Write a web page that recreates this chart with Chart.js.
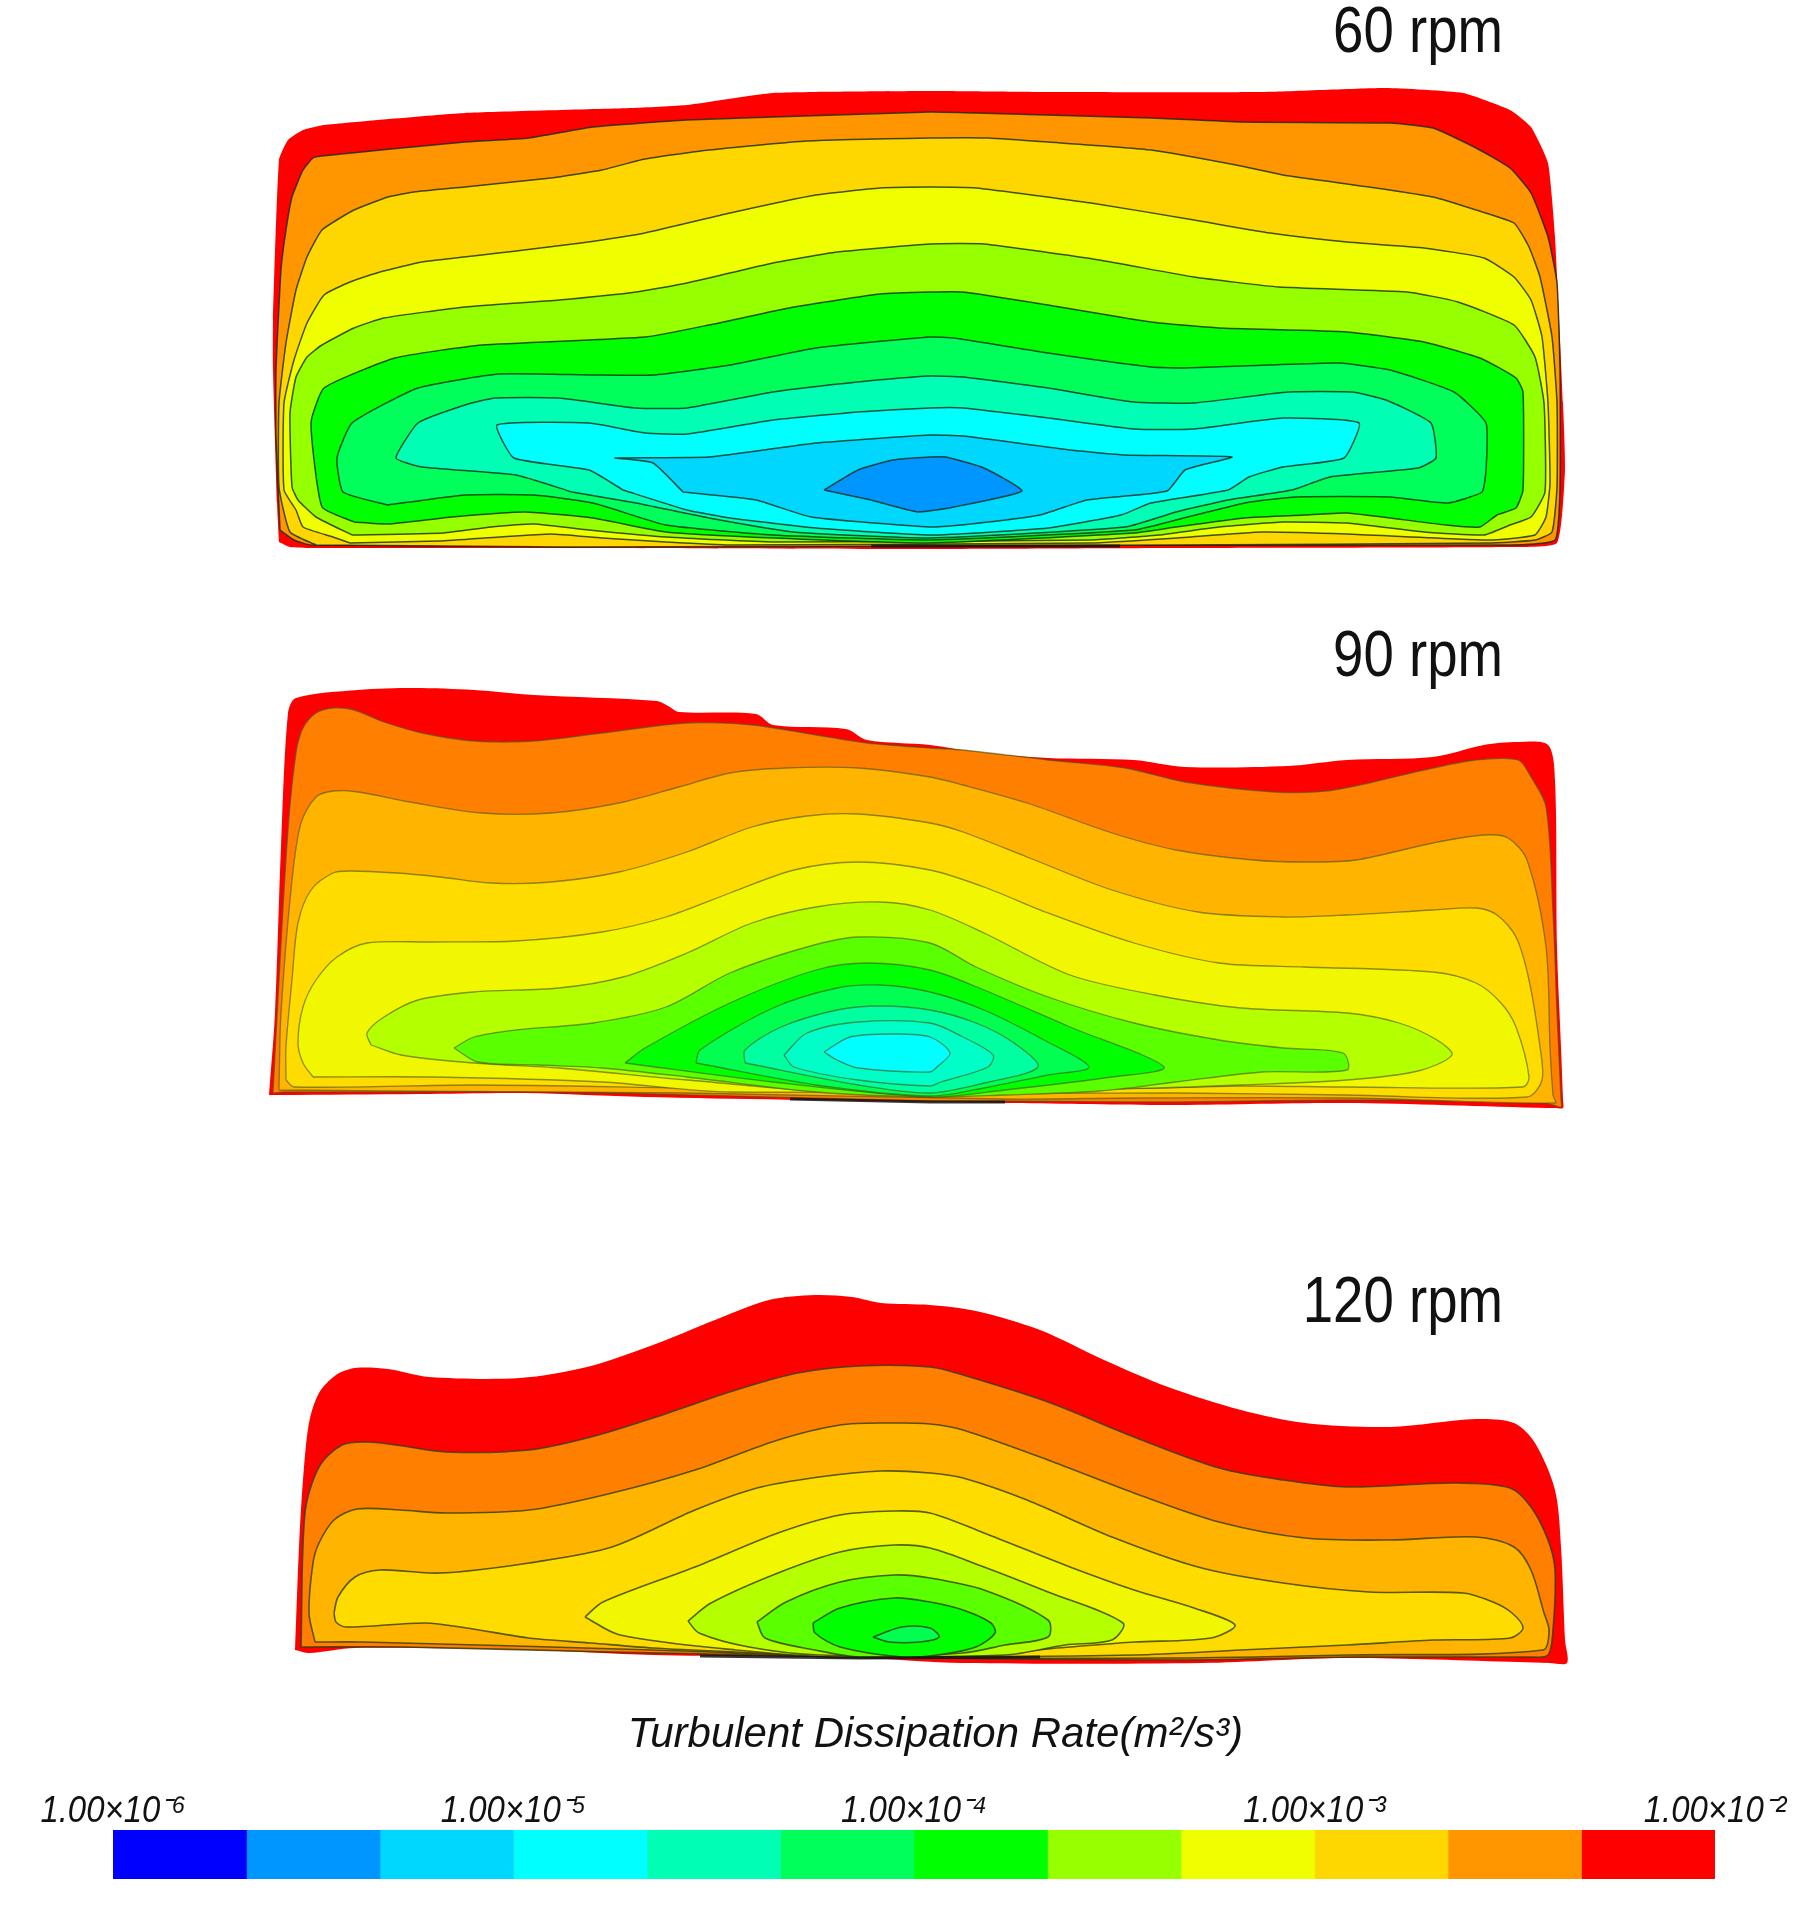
<!DOCTYPE html>
<html>
<head>
<meta charset="utf-8">
<title>Turbulent Dissipation Rate</title>
<script src="https://cdn.jsdelivr.net/npm/chart.js@4"></script>
<style>
  body { margin: 0; background: #fff; }
  #page { position: relative; width: 1811px; height: 1931px; overflow: hidden; }
  canvas { position: absolute; left: 0; }
  #contours { top: 0; }
  #legendBar { top: 1690px; }
</style>
</head>
<body>
<div id="page">
  <canvas id="contours" width="1811" height="1931"></canvas>
  <canvas id="legendBar" width="1811" height="200"></canvas>
</div>
<script>
// colour bar
const barColors = ["#0000ff", "#0096ff", "#00d7ff", "#00ffff", "#00ffb4", "#00ff5a", "#00ff00", "#96ff00", "#f0ff00", "#ffd700", "#ff9600", "#ff0000"];
const barTickLabels = ["1.00×10⁻⁶", "1.00×10⁻⁵", "1.00×10⁻⁴", "1.00×10⁻³", "1.00×10⁻²"];
const barTitle = "Turbulent Dissipation Rate(m²/s³)";

// fill colours, outermost contour first
const colors60 = ["#ff0000", "#ff9600", "#ffd700", "#f0ff00", "#96ff00", "#00ff00", "#00ff5a", "#00ffb4", "#00ffff", "#00d7ff", "#0096ff"];
const colors90 = ["#ff0000", "#ff8000", "#ffb400", "#ffdc00", "#f0f700", "#b4ff00", "#5aff00", "#00ff00", "#00ff50", "#00ffa0", "#00ffc8", "#00ffff"];
const colors120 = ["#ff0000", "#ff8000", "#ffb400", "#ffdc00", "#f0f700", "#b4ff00", "#5aff00", "#00ff00", "#00ff50"];

// contours, in picture units
const rpm60Edge = [[279,542],[277,503],[273,370],[273,320],[279,160],[288,140],[303,130],[324,125],[465,113],[632,108],[687,105],[773,93],[930,91],[1048,92],[1262,92],[1386,88],[1463,93],[1510,110],[1531,127],[1548,163],[1555,237],[1563,403],[1565,470],[1557,543],[1510,547],[1172,548],[920,549],[568,548],[311,548],[290,547]];
const rpm60Orange = [[280,530],[276,437],[276,370],[281,270],[286,230],[292,197],[303,170],[313,158],[322,156],[465,142],[529,138],[593,127],[687,120],[773,117],[930,112],[976,113],[1151,118],[1240,122],[1390,123],[1433,128],[1476,148],[1510,168],[1531,193],[1548,237],[1557,283],[1560,370],[1560,487],[1555,540],[1510,545],[1172,545],[920,546],[568,546],[311,545],[294,540]];
const rpm60Gold = [[316,545],[290,532],[279,487],[279,403],[286,343],[296,290],[307,257],[322,230],[354,210],[388,197],[414,192],[465,187],[551,178],[602,170],[645,159],[709,150],[807,141],[930,138],[988,138],[1048,142],[1151,150],[1236,165],[1283,175],[1369,187],[1433,197],[1476,210],[1514,223],[1529,247],[1540,277],[1552,337],[1557,403],[1557,487],[1552,532],[1535,540],[1488,543],[1172,545],[568,547]];
const rpm60Yellow = [[350,543],[333,537],[303,527],[296,510],[284,490],[284,403],[294,360],[307,323],[324,295],[350,282],[380,272],[422,262],[508,252],[581,243],[645,233],[730,213],[816,195],[880,188],[930,187],[976,188],[1091,203],[1194,220],[1270,233],[1347,242],[1424,248],[1484,258],[1514,277],[1531,300],[1542,337],[1548,403],[1550,483],[1546,517],[1535,535],[1488,540],[1347,534],[1262,532],[1176,538],[1091,543],[730,545],[666,542],[602,538],[551,534],[499,537],[439,541]];
const rpm60Lime = [[352,535],[316,517],[298,500],[292,487],[290,413],[296,377],[307,357],[322,345],[354,328],[384,318],[465,307],[559,300],[636,292],[687,283],[773,263],[837,252],[930,244],[984,244],[1099,260],[1194,277],[1279,287],[1407,292],[1458,302],[1514,325],[1535,357],[1544,403],[1545,492],[1531,517],[1510,525],[1484,535],[1424,532],[1347,523],[1283,522],[1219,527],[1159,535],[1091,540],[773,542],[666,537],[589,530],[534,524],[491,527],[444,533]];
const rpm60Green = [[354,522],[322,507],[311,423],[324,388],[395,358],[482,345],[645,337],[709,325],[794,307],[880,294],[930,292],[963,292],[1048,305],[1151,322],[1219,328],[1347,332],[1424,342],[1480,358],[1516,378],[1523,392],[1523,490],[1516,508],[1497,515],[1480,527],[1446,525],[1347,513],[1305,515],[1245,518],[1176,527],[1134,533],[930,543],[773,538],[666,532],[593,518],[525,512],[452,517],[388,524]];
const rpm60Spring = [[388,505],[343,492],[337,458],[352,423],[418,388],[499,374],[593,375],[653,375],[730,365],[816,348],[930,337],[954,338],[1048,353],[1151,367],[1185,368],[1270,365],[1339,363],[1390,370],[1454,392],[1486,423],[1486,470],[1482,492],[1448,503],[1390,497],[1296,497],[1245,503],[1176,520],[1134,530],[930,540],[773,535],[666,525],[593,503],[534,495],[465,495]];
const rpm60Aqua = [[572,492],[516,475],[422,467],[396,458],[418,423],[465,405],[495,398],[559,398],[636,408],[687,408],[773,392],[858,382],[930,376],[963,377],[1048,388],[1134,402],[1194,403],[1288,392],[1352,392],[1386,400],[1431,423],[1436,458],[1418,468],[1330,477],[1292,490],[1228,500],[1176,512],[1125,527],[930,538],[794,532],[709,518],[636,503]];
const rpm60Cyan = [[623,490],[589,470],[514,458],[497,425],[589,423],[645,433],[687,434],[773,420],[858,412],[930,408],[963,408],[1048,418],[1134,429],[1194,429],[1283,418],[1359,423],[1344,458],[1283,467],[1249,477],[1228,490],[1151,503],[1121,515],[1048,528],[930,535],[816,528],[730,518],[687,510]];
const rpm60Sky = [[683,492],[653,463],[615,458],[709,457],[816,443],[930,435],[963,436],[1070,450],[1125,455],[1232,457],[1185,470],[1167,491],[1087,500],[1040,515],[971,524],[930,527],[811,517],[756,500]];
const rpm60Azure = [[824,490],[858,470],[893,460],[930,457],[946,457],[984,468],[1022,491],[954,507],[918,512],[871,500]];

const rpm90Edge = [[269,1095],[275,1013],[281,847],[288,713],[296,698],[358,690],[414,688],[474,690],[534,695],[657,701],[668,706],[679,712],[756,714],[773,725],[846,729],[867,740],[930,745],[976,752],[1048,758],[1134,760],[1185,767],[1288,766],[1347,760],[1433,757],[1484,745],[1518,742],[1548,745],[1555,780],[1557,947],[1561,1047],[1563,1100],[1563,1108],[1555,1108],[1548,1108],[1347,1103],[1168,1105],[1014,1103],[930,1102],[645,1097],[525,1093],[418,1094],[280,1095]];
const rpm90Orange = [[273,1093],[279,980],[288,830],[296,753],[303,728],[316,713],[333,708],[354,710],[384,722],[422,733],[474,741],[534,741],[602,733],[687,723],[752,725],[816,735],[867,743],[930,748],[963,750],[1048,760],[1125,768],[1185,782],[1275,792],[1326,791],[1369,783],[1424,770],[1476,760],[1518,760],[1531,777],[1546,807],[1553,913],[1557,1013],[1561,1100],[1561,1107],[1553,1105],[1540,1102],[1347,1100],[1168,1102],[1014,1101],[930,1101],[525,1091],[418,1092],[285,1092]];
const rpm90Amber = [[279,1090],[281,1013],[292,880],[301,823],[316,797],[333,791],[358,792],[410,802],[482,813],[551,813],[619,803],[679,787],[730,773],[786,768],[858,768],[930,777],[963,785],[1027,803],[1112,833],[1176,850],[1253,860],[1305,862],[1356,860],[1433,843],[1484,835],[1508,838],[1527,860],[1546,947],[1550,1047],[1553,1095],[1555,1103],[1347,1098],[1134,1098],[1005,1099],[687,1093],[388,1091]];
const rpm90Gold = [[286,1080],[286,1047],[292,980],[298,923],[311,890],[333,873],[350,871],[397,873],[440,877],[491,883],[551,882],[619,872],[687,852],[752,827],[807,816],[858,814],[930,823],[963,832],[1027,857],[1112,890],[1198,912],[1283,917],[1347,915],[1433,910],[1476,908],[1497,915],[1516,937],[1529,980],[1540,1047],[1542,1080],[1527,1097],[1347,1095],[1176,1093],[1048,1093],[687,1088],[474,1085],[294,1087]];
const rpm90Yellow = [[313,1077],[303,1063],[298,1043],[303,1007],[316,980],[337,957],[367,943],[431,942],[516,941],[602,932],[666,917],[730,893],[794,870],[858,862],[930,870],[984,887],[1048,913],[1134,943],[1219,963],[1305,967],[1433,972],[1476,983],[1501,1003],[1516,1027],[1529,1077],[1523,1087],[1347,1087],[1241,1086],[1155,1088],[730,1092],[602,1082],[431,1077]];
const rpm90Lime = [[371,1045],[367,1033],[384,1017],[418,1000],[474,992],[559,988],[623,977],[687,953],[752,923],[816,907],[880,902],[930,910],[984,933],[1070,975],[1155,995],[1241,1008],[1347,1013],[1399,1023],[1437,1040],[1452,1055],[1418,1071],[1347,1080],[1241,1085],[1155,1088],[858,1093],[687,1080],[559,1068],[474,1063],[401,1055]];
const rpm90Leaf = [[454,1048],[474,1037],[516,1030],[593,1023],[666,1007],[730,973],[807,947],[858,937],[930,943],[976,967],[1048,997],[1134,1023],[1219,1040],[1283,1048],[1343,1053],[1347,1070],[1262,1072],[1176,1082],[1100,1091],[1005,1095],[930,1097],[816,1092],[687,1077],[602,1068],[538,1065],[478,1062]];
const rpm90Green = [[625,1063],[645,1048],[730,1003],[816,970],[867,963],[930,970],[984,990],[1070,1027],[1164,1067],[1112,1077],[1005,1090],[930,1097],[773,1082]];
const rpm90Spring = [[696,1063],[700,1050],[773,1008],[837,988],[880,985],[930,992],[984,1010],[1044,1040],[1089,1067],[1048,1075],[984,1088],[930,1096],[816,1085]];
const rpm90Aqua = [[745,1063],[745,1050],[781,1027],[837,1010],[880,1006],[930,1010],[976,1023],[1014,1043],[1038,1067],[984,1083],[930,1093],[858,1085]];
const rpm90Teal = [[784,1055],[807,1033],[858,1022],[930,1023],[963,1037],[993,1055],[988,1067],[941,1082],[930,1086],[858,1080],[794,1067]];
const rpm90Cyan = [[824,1052],[850,1037],[893,1034],[930,1037],[950,1053],[937,1067],[930,1072],[858,1068],[837,1060]];

const rpm120Edge = [[295,1650],[299,1547],[303,1480],[309,1423],[319,1393],[336,1375],[355,1368],[388,1369],[429,1377],[520,1378],[587,1367],[653,1345],[715,1320],[769,1300],[815,1295],[852,1297],[881,1303],[930,1305],[976,1311],[1040,1330],[1104,1360],[1168,1387],[1241,1410],[1305,1423],[1390,1427],[1476,1419],[1514,1423],[1535,1443],[1555,1490],[1561,1547],[1565,1640],[1567,1663],[1550,1663],[1518,1662],[1347,1658],[1202,1663],[963,1663],[860,1658],[653,1655],[529,1650],[355,1648],[309,1653]];
const rpm120Orange = [[301,1647],[305,1513],[319,1467],[342,1445],[367,1442],[396,1445],[446,1452],[529,1450],[591,1437],[653,1418],[736,1390],[798,1373],[860,1366],[930,1367],[963,1375],[1048,1402],[1134,1437],[1219,1468],[1283,1480],[1347,1487],[1454,1483],[1510,1488],[1531,1507],[1548,1540],[1555,1570],[1553,1630],[1548,1655],[1530,1657],[1347,1657],[1176,1660],[930,1658],[612,1652],[404,1647]];
const rpm120Amber = [[315,1642],[309,1613],[313,1563],[319,1543],[334,1520],[357,1509],[400,1510],[446,1513],[529,1510],[612,1493],[695,1470],[778,1440],[840,1425],[889,1423],[930,1424],[963,1430],[1048,1460],[1134,1493],[1219,1522],[1305,1538],[1390,1540],[1476,1537],[1514,1547],[1531,1570],[1544,1613],[1549,1630],[1543,1650],[1347,1655],[1176,1658],[860,1657],[653,1650],[363,1642]];
const rpm120Gold = [[334,1613],[338,1597],[355,1577],[380,1570],[429,1573],[458,1572],[529,1563],[612,1547],[695,1510],[757,1488],[819,1477],[881,1471],[930,1473],[963,1478],[1027,1500],[1112,1537],[1198,1567],[1283,1583],[1369,1592],[1463,1593],[1493,1602],[1512,1613],[1523,1628],[1510,1638],[1433,1640],[1347,1645],[1241,1650],[1134,1655],[860,1657],[736,1652],[653,1648],[591,1643],[529,1638],[467,1628],[425,1623],[346,1627],[336,1622]];
const rpm120Yellow = [[585,1617],[603,1602],[695,1567],[778,1533],[840,1515],[894,1511],[930,1513],[984,1533],[1070,1567],[1134,1590],[1194,1608],[1235,1625],[1211,1638],[1134,1642],[1070,1647],[1005,1652],[860,1658],[736,1650],[620,1635]];
const rpm120Lime = [[688,1621],[711,1603],[778,1573],[840,1552],[894,1545],[930,1548],[984,1567],[1048,1592],[1123,1623],[1112,1640],[1065,1645],[1005,1655],[819,1655],[749,1647],[699,1633]];
const rpm120Leaf = [[757,1622],[786,1602],[840,1582],[894,1575],[930,1578],[984,1590],[1048,1620],[1048,1637],[1005,1645],[963,1653],[860,1657],[815,1650],[765,1638]];
const rpm120Green = [[813,1623],[840,1608],[894,1598],[930,1602],[963,1610],[991,1623],[995,1633],[976,1647],[937,1655],[902,1657],[840,1647],[815,1633]];
const rpm120Spring = [[873,1637],[902,1627],[930,1628],[939,1637],[920,1642],[889,1642]];

// black smear along the floor of each section
const floor60 = [[871,546],[1120,546]];
const floor90 = [[790,1099],[930,1102],[1005,1102]];
const floor120 = [[700,1656],[860,1658],[1040,1657]];

const rpmLabels = ["60 rpm", "90 rpm", "120 rpm"];
const rpmLabelX = [1503, 1503, 1503];
const rpmLabelY = [52, 676, 1322];

const narrowFont = '"Liberation Sans", Arial, sans-serif';

// no condensed face is installed, so squeeze the text sideways
function drawSqueezed(ctx, text, x, y, squeeze, align) {
  ctx.save();
  ctx.translate(x, y);
  ctx.scale(squeeze, 1);
  ctx.textAlign = align;
  ctx.textBaseline = "alphabetic";
  ctx.fillText(text, 0, 0);
  ctx.restore();
}

function contourDatasets(contours, colors, tension, lineColor, lineWidth) {
  return contours.map((points, i) => ({
    data: [...points, points[0]].map(p => ({ x: p[0], y: p[1] })),
    showLine: true,
    fill: "shape",
    backgroundColor: colors[i],
    borderColor: i === 0 ? colors[i] : lineColor,
    borderWidth: i === 0 ? 0 : lineWidth,
    tension: tension,
    pointRadius: 0
  }));
}

function floorDataset(points) {
  return {
    data: points.map(p => ({ x: p[0], y: p[1] })),
    showLine: true,
    fill: false,
    borderColor: "rgba(20,20,20,0.85)",
    borderWidth: 3,
    pointRadius: 0
  };
}

const datasets = [
  ...contourDatasets([rpm60Edge, rpm60Orange, rpm60Gold, rpm60Yellow, rpm60Lime, rpm60Green, rpm60Spring, rpm60Aqua, rpm60Cyan, rpm60Sky, rpm60Azure], colors60, 0.15, "rgba(20,40,20,0.8)", 1.5),
  floorDataset(floor60),
  ...contourDatasets([rpm90Edge, rpm90Orange, rpm90Amber, rpm90Gold, rpm90Yellow, rpm90Lime, rpm90Leaf, rpm90Green, rpm90Spring, rpm90Aqua, rpm90Teal, rpm90Cyan], colors90, 0.3, "rgba(70,80,20,0.6)", 1.3),
  floorDataset(floor90),
  ...contourDatasets([rpm120Edge, rpm120Orange, rpm120Amber, rpm120Gold, rpm120Yellow, rpm120Lime, rpm120Leaf, rpm120Green, rpm120Spring], colors120, 0.3, "rgba(50,60,10,0.8)", 1.6),
  floorDataset(floor120)
];
// later contours sit on top
datasets.forEach((d, i) => { d.order = -i; });

const rpmLabelPlugin = {
  id: "rpmLabels",
  afterDraw(chart) {
    const { ctx, scales } = chart;
    ctx.save();
    ctx.font = `65px ${narrowFont}`;
    ctx.fillStyle = "#111";
    rpmLabels.forEach((text, i) => {
      drawSqueezed(ctx, text, scales.x.getPixelForValue(rpmLabelX[i]), scales.y.getPixelForValue(rpmLabelY[i]), 0.84, "right");
    });
    ctx.restore();
  }
};

const barTextPlugin = {
  id: "barText",
  afterDraw(chart) {
    const { ctx, scales } = chart;
    const xScale = scales.x;
    ctx.save();
    ctx.fillStyle = "#111";
    ctx.font = `italic 37px ${narrowFont}`;
    barTickLabels.forEach((text, i) => {
      drawSqueezed(ctx, text, xScale.getPixelForValue(i * 3), xScale.bottom - 8, 0.89, "center");
    });
    ctx.font = `italic 42px ${narrowFont}`;
    drawSqueezed(ctx, barTitle, xScale.getPixelForValue(6.16), xScale.bottom - 83, 1, "center");
    ctx.restore();
  }
};

new Chart(document.getElementById("contours"), {
  type: "scatter",
  data: { datasets },
  plugins: [rpmLabelPlugin],
  options: {
    responsive: false,
    animation: false,
    layout: { padding: 0 },
    plugins: { legend: { display: false }, tooltip: { enabled: false } },
    scales: {
      x: { type: "linear", display: false, min: 0, max: 1811 },
      y: { type: "linear", display: false, min: 0, max: 1931, reverse: true }
    }
  }
});

new Chart(document.getElementById("legendBar"), {
  type: "bar",
  data: {
    labels: [""],
    datasets: barColors.map(color => ({
      data: [1],
      backgroundColor: color,
      barPercentage: 1,
      categoryPercentage: 1
    }))
  },
  plugins: [barTextPlugin],
  options: {
    indexAxis: "y",
    responsive: false,
    animation: false,
    layout: { padding: { left: 113, right: 96, top: 0, bottom: 11 } },
    plugins: { legend: { display: false }, tooltip: { enabled: false } },
    scales: {
      y: { stacked: true, display: false },
      x: {
        stacked: true,
        position: "top",
        min: 0,
        max: barColors.length,
        afterFit(scale) { scale.height = 140; },
        grid: { display: false, drawTicks: false },
        border: { display: false },
        ticks: { display: false, stepSize: 3 }
      }
    }
  }
});
</script>
</body>
</html>
